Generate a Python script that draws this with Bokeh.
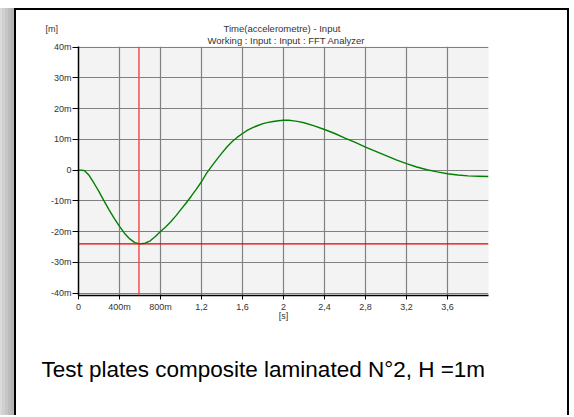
from bokeh.plotting import figure
from bokeh.models import Range1d, FixedTicker, Span, Title
from bokeh.embed import file_html
from bokeh.resources import INLINE

# ---- data (time in s, displacement in mm) ----
t_values = [0.0, 0.03, 0.06, 0.1, 0.15, 0.2, 0.25, 0.3, 0.35, 0.4, 0.45, 0.5, 0.55,
            0.6, 0.65, 0.7, 0.75, 0.8, 0.85, 0.9, 0.95, 1.0, 1.05, 1.1, 1.15, 1.2,
            1.25, 1.3, 1.35, 1.4, 1.45, 1.5, 1.55, 1.6, 1.65, 1.7, 1.75, 1.8, 1.85,
            1.9, 1.95, 2.0, 2.05, 2.1, 2.15, 2.2, 2.3, 2.4, 2.5, 2.6, 2.7, 2.8, 2.9,
            3.0, 3.1, 3.2, 3.3, 3.4, 3.5, 3.6, 3.7, 3.8, 3.9, 4.0]
v_values = [0.0, 0.0, -0.2, -1.6, -4.2, -7.0, -10.1, -13.0, -15.8, -18.3, -20.6,
            -22.4, -23.6, -24.0, -23.8, -23.0, -21.6, -20.0, -18.5, -16.8, -14.9,
            -12.8, -10.7, -8.5, -6.2, -3.8, -1.0, 1.3, 3.5, 5.6, 7.6, 9.3, 10.7,
            11.9, 13.0, 13.8, 14.5, 15.1, 15.5, 15.8, 16.05, 16.2, 16.2, 16.0,
            15.75, 15.4, 14.4, 13.2, 11.9, 10.4, 9.0, 7.5, 6.1, 4.7, 3.3, 2.1,
            1.0, 0.1, -0.6, -1.2, -1.6, -1.9, -2.0, -2.1]

cursor_t = 0.59
cursor_v = -24.0

x_ticks = [0, 0.4, 0.8, 1.2, 1.6, 2.0, 2.4, 2.8, 3.2, 3.6]
x_tick_labels = ["0", "400m", "800m", "1,2", "1,6", "2", "2,4", "2,8", "3,2", "3,6"]
y_ticks = [-40, -30, -20, -10, 0, 10, 20, 30, 40]
y_tick_labels = ["-40m", "-30m", "-20m", "-10m", "0", "10m", "20m", "30m", "40m"]

title_line1 = "Time(accelerometre) - Input"
title_line2 = "Working : Input : Input : FFT Analyzer"
y_unit = "[m]"
x_unit = "[s]"
caption = "Test plates composite laminated N\u00b02, H =1m"

FONT = "Liberation Sans"

p = figure(width=555, height=407, output_backend="svg", toolbar_location=None,
           x_range=Range1d(0, 4.0), y_range=Range1d(-40.8, 40.2),
           min_border_left=62, min_border_right=83, min_border_top=36,
           min_border_bottom=122, title=None)
p.styles = {"margin-left": "14px", "margin-top": "8px",
            "border-top": "2px solid black", "border-left": "2px solid black",
            "border-right": "2px solid black", "border-bottom": "none",
            "box-shadow": ("-3px 0 0 0 #b4b4b4, -6px 0 0 0 #bcbcbc, "
                           "-9px 0 0 0 #c6c6c6, -12px 0 0 0 #d0d0d0, "
                           "-14px 0 0 0 #dadada")}
p.background_fill_color = "#f3f3f3"
p.border_fill_color = "white"
p.outline_line_color = None

# axes
for ax, ticks, labels in ((p.xaxis[0], x_ticks, x_tick_labels),
                          (p.yaxis[0], y_ticks, y_tick_labels)):
    ax.ticker = FixedTicker(ticks=ticks)
    ax.major_label_overrides = {t: l for t, l in zip(ticks, labels)}
    ax.minor_tick_line_color = None
    ax.axis_line_color = "black"
    ax.axis_line_width = 1.5
    ax.major_tick_line_color = "black"
    ax.major_tick_in = 0
    ax.major_label_text_font = FONT
    ax.major_label_text_font_size = "9px"
    ax.major_label_text_color = "#333333"
p.xaxis.major_tick_out = 4
p.yaxis.major_tick_out = 6
p.xaxis.major_label_standoff = 2
p.yaxis.major_label_standoff = 1
p.xaxis.axis_label = x_unit
p.xaxis.axis_label_text_font = FONT
p.xaxis.axis_label_text_font_size = "9px"
p.xaxis.axis_label_text_font_style = "normal"
p.xaxis.axis_label_text_color = "#333333"
p.xaxis.axis_label_standoff = -4

p.xgrid.ticker = FixedTicker(ticks=x_ticks)
p.ygrid.ticker = FixedTicker(ticks=y_ticks)
p.grid.grid_line_color = "#808080"
p.grid.grid_line_width = 1.2

# curve
p.line(t_values, v_values, line_color="#008000", line_width=1.4)

# cursors
p.add_layout(Span(location=cursor_t, dimension="height", line_color="#f05050", line_width=1.5))
p.add_layout(Span(location=cursor_v, dimension="width", line_color="#e00000", line_width=1.2))

# titles (first added is closest to the frame)
def ttl(text, where, size, align="center", offset=0, standoff=0, color="#333333"):
    p.add_layout(Title(text=text, align=align, offset=offset, standoff=standoff,
                       text_font=FONT, text_font_size=size, text_font_style="normal",
                       text_color=color), where)

ttl(title_line2, "above", "9.5px", align="left", offset=129, standoff=1)
ttl(title_line1, "above", "9.5px", align="left", offset=145, standoff=-2)
ttl(y_unit, "above", "9px", align="left", offset=-33, standoff=-24)
ttl(caption, "below", "22.5px", align="left", offset=-37, standoff=63, color="black")

open("out.html", "w").write(file_html(p, INLINE))
